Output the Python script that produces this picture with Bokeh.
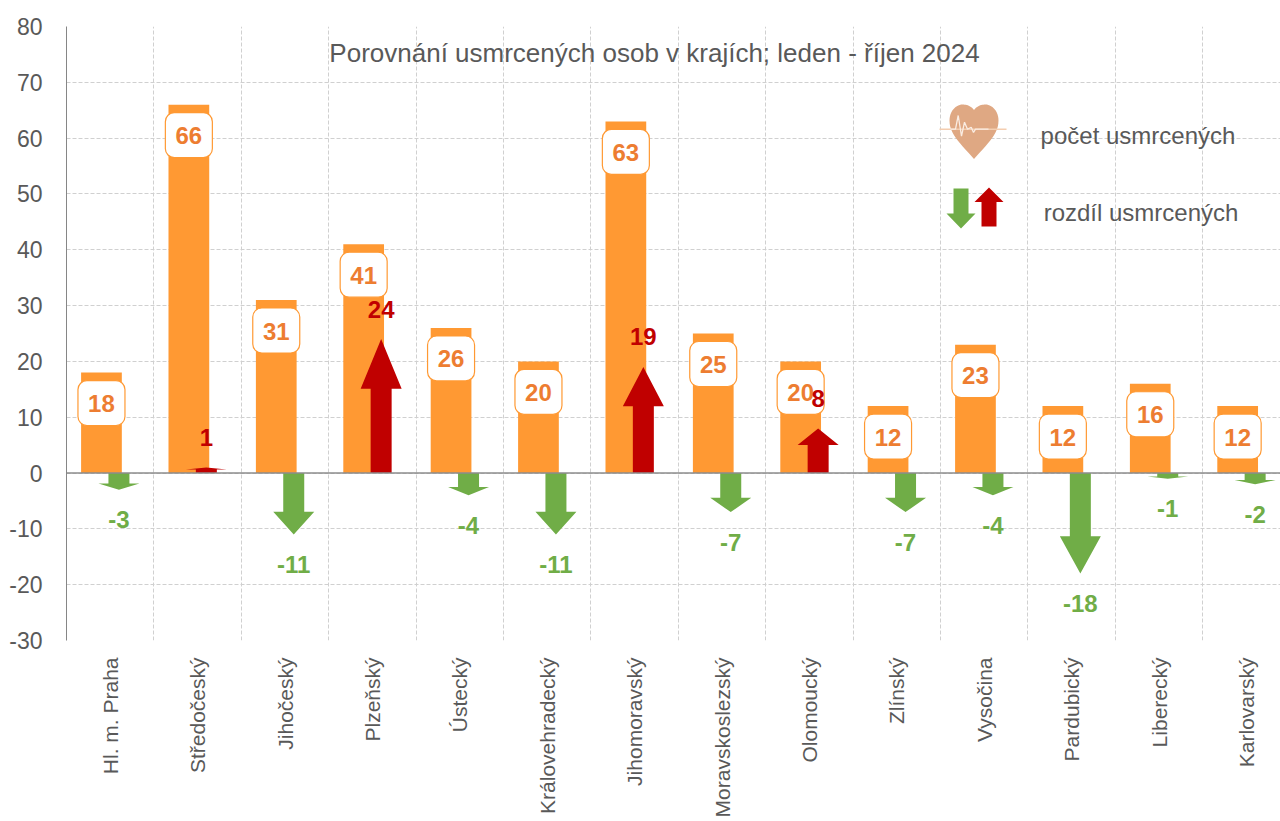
from bokeh.plotting import figure, ColumnDataSource
from bokeh.models import Range1d, FixedTicker, Span
from bokeh.core.properties import value
from bokeh.embed import file_html
from bokeh.resources import INLINE
import numpy as np
import math

categories = ["Hl. m. Praha", "Středočeský", "Jihočeský", "Plzeňský", "Ústecký", "Královehradecký",
              "Jihomoravský", "Moravskoslezský", "Olomoucký", "Zlínský", "Vysočina", "Pardubický",
              "Liberecký", "Karlovarský"]
usmrceni = [18, 66, 31, 41, 26, 20, 63, 25, 20, 12, 23, 12, 16, 12]
rozdil = [-3, 1, -11, 24, -4, -11, 19, -7, 8, -7, -4, -18, -1, -2]
y_ticks = [-30, -20, -10, 0, 10, 20, 30, 40, 50, 60, 70, 80]
title = "Porovnání usmrcených osob v krajích; leden - říjen 2024"

FONT = "Liberation Sans"
GREY = "#595959"
ORANGE = "#FF9933"
LABEL = "#ED7D31"
GREEN = "#70AD47"
RED = "#C00000"

FW, FH = 1214, 614
L, T = 66, 26
W, H = 1280, 821
CAT_PX = 87.4
PX_UNIT = FH / 110.0

p = figure(width=W, height=H, frame_width=FW, frame_height=FH, min_border_left=L, min_border_top=T,
           min_border_right=0, min_border_bottom=0,
           x_range=Range1d(0, FW / CAT_PX), y_range=Range1d(-30, 80),
           output_backend="svg", toolbar_location=None, background_fill_color="white",
           border_fill_color="white", outline_line_color=None)

n = len(categories)
centers = [i + 0.5 for i in range(n)]
p.xaxis.ticker = FixedTicker(ticks=centers)
p.xaxis.major_label_overrides = {c: s for c, s in zip(centers, categories)}
p.xaxis.major_label_orientation = math.pi / 2
p.xaxis.major_label_text_font = FONT
p.xaxis.major_label_text_font_size = "21px"
p.xaxis.major_label_text_color = GREY
p.xaxis.major_label_standoff = 11
p.xaxis.axis_line_color = None
p.xaxis.major_tick_line_color = None
p.xaxis.minor_tick_line_color = None

p.yaxis.ticker = FixedTicker(ticks=y_ticks)
p.yaxis.major_label_overrides = {t: str(t) for t in y_ticks}
p.yaxis.major_label_text_font = FONT
p.yaxis.major_label_text_font_size = "23px"
p.yaxis.major_label_text_color = GREY
p.yaxis.major_label_standoff = 18
p.yaxis.axis_line_color = "#868686"
p.yaxis.axis_line_width = 1
p.yaxis.major_tick_line_color = None
p.yaxis.minor_tick_line_color = None

p.xgrid.ticker = FixedTicker(ticks=list(range(n + 1)))
for g in (p.xgrid, p.ygrid):
    g.grid_line_color = "#D0D0D0"
    g.grid_line_dash = "4 2"
    g.grid_line_width = 1

# bars
bar_off = -0.1
bar_w = 0.466
bar_src = ColumnDataSource(dict(
    left=[c + bar_off - bar_w / 2 for c in centers],
    right=[c + bar_off + bar_w / 2 for c in centers],
    top=usmrceni, bottom=[0] * n,
    box_l=[c + bar_off - 23.5 / CAT_PX for c in centers],
    box_r=[c + bar_off + 23.5 / CAT_PX for c in centers],
    box_t=[v - 8 / PX_UNIT for v in usmrceni],
    box_b=[v - 53 / PX_UNIT for v in usmrceni],
    x=[c + bar_off for c in centers],
    y=[v - 31 / PX_UNIT for v in usmrceni],
    text=[str(v) for v in usmrceni],
))
p.quad(left="left", right="right", top="top", bottom="bottom", source=bar_src, fill_color=ORANGE, line_color=None)

# arrows, stretched with their value
arrow_off = 0.1
shaft = 21 / CAT_PX / 2
head = 41 / CAT_PX / 2
HEAD_FRAC = 0.37
xs, ys, cols = [], [], []
for c, v in zip(centers, rozdil):
    x = c + arrow_off
    neck = v * (1 - HEAD_FRAC)
    xs.append([x - shaft, x + shaft, x + shaft, x + head, x, x - head, x - shaft])
    ys.append([0, 0, neck, neck, v, neck, neck])
    cols.append(RED if v > 0 else GREEN)
p.patches(xs, ys, fill_color=cols, line_color=None)
p.add_layout(Span(location=0, dimension="width", line_color="#8C8C8C", line_width=1.5))

p.quad(left="box_l", right="box_r", top="box_t", bottom="box_b", source=bar_src, fill_color="white",
       line_color=ORANGE, line_width=1.2, border_radius=9)
p.text(x="x", y="y", text="text", source=bar_src, text_align="center", text_baseline="middle",
       text_font=value(FONT), text_font_style="bold", text_font_size="24px", text_color=LABEL)

# difference labels
p.text(x=[c + arrow_off for c in centers],
       y=[v + (1 if v > 0 else -1) * 30 / PX_UNIT for v in rozdil],
       text=[str(v) for v in rozdil], text_align="center", text_baseline="middle",
       text_font=value(FONT), text_font_style="bold", text_font_size="24px", text_color=cols)


def dx(px):
    return (np.asarray(px, dtype=float) - L) / CAT_PX


def dy(py):
    return 80 - (np.asarray(py, dtype=float) - T) / PX_UNIT


# title and legend texts
for txt, x, y, size in [(title, 654, 52, "26px"), ("počet usmrcených", 1137.5, 135, "24px"),
                        ("rozdíl usmrcených", 1140.5, 212, "24px")]:
    p.text(x=[float(dx(x))], y=[float(dy(y))], text=[txt], text_align="center", text_baseline="middle",
           text_font=value(FONT), text_font_size=size, text_color=GREY)


def bezier(p0, p1, p2, p3, k=14):
    t = np.linspace(0, 1, k)[:, None]
    a, b, c, d = map(np.array, (p0, p1, p2, p3))
    return (1 - t) ** 3 * a + 3 * (1 - t) ** 2 * t * b + 3 * (1 - t) * t ** 2 * c + t ** 3 * d


# legend heart
half = np.vstack([bezier((973.5, 158.5), (960, 143), (949, 134), (949, 120)),
                  bezier((949, 120), (949, 110), (956, 104), (962, 104)),
                  bezier((962, 104), (967, 104), (971, 106), (973.5, 109.5))])
hx = np.concatenate([half[:, 0], (2 * 973.5 - half[:, 0])[::-1]])
hy = np.concatenate([half[:, 1], half[:, 1][::-1]])
p.patch(dx(hx), dy(hy), fill_color="#DFA883", line_color=None)
# legend pulse
p.line(dx([939, 1006]), dy([128.7, 128.7]), line_color="#F4CDB0", line_width=1.5)
pulse_x = [950, 955, 957.7, 961, 964, 967, 970.7, 973, 975, 988]
pulse_y = [128.7, 128.7, 115, 135.7, 121.7, 128.7, 126.7, 132, 128.7, 128.7]
p.line(dx(pulse_x), dy(pulse_y), line_color="#FAEDE3", line_width=1.3)
# legend arrows
p.patch(dx([953, 968, 968, 975, 960.5, 946, 953]), dy([188, 188, 213, 213, 228, 213, 213]),
        fill_color=GREEN, line_color=None)
p.patch(dx([981, 996, 996, 1003, 988.5, 974, 981]), dy([226, 226, 201.5, 201.5, 187, 201.5, 201.5]),
        fill_color=RED, line_color=None)

open("out.html", "w").write(file_html(p, INLINE))
